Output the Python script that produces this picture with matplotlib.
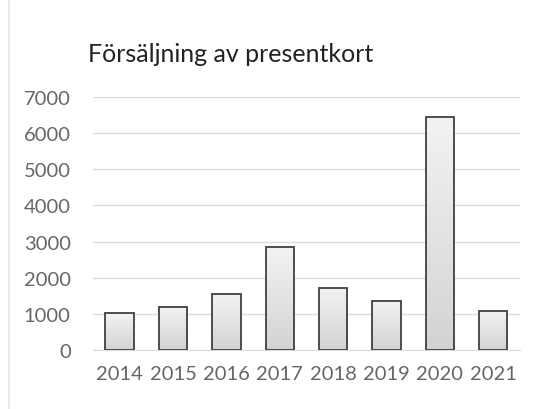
import numpy as np
import matplotlib.pyplot as plt
from matplotlib.patches import Rectangle
from matplotlib.colors import LinearSegmentedColormap

# Data
years = ['2014', '2015', '2016', '2017', '2018', '2019', '2020', '2021']
sales = [1020, 1200, 1540, 2840, 1720, 1360, 6450, 1090]
yticks = [0, 1000, 2000, 3000, 4000, 5000, 6000, 7000]

plt.rcParams['font.family'] = ['Lato', 'DejaVu Sans']

fig = plt.figure(figsize=(5.4, 4.1), dpi=100)
ax = fig.add_axes([0.172, 0.144, 0.791, 0.617])

x = np.arange(len(years))
bars = ax.bar(x, sales, width=0.53, color='none', edgecolor='#404040',
              linewidth=1.3, zorder=3)

# light grey gradient inside each bar (darker at the bottom)
cmap = LinearSegmentedColormap.from_list('barfill', ['#d3d3d3', '#f3f3f3'])
grad = np.linspace(0, 1, 256).reshape(-1, 1)
for b in bars:
    bx, by = b.get_x(), b.get_y()
    w, h = b.get_width(), b.get_height()
    im = ax.imshow(grad, extent=[bx, bx + w, by, by + h], aspect='auto',
                   cmap=cmap, origin='lower', zorder=2)
    im.set_clip_path(b)

ax.set_xlim(-0.5, len(years) - 0.5)
ax.set_ylim(0, 7000)
ax.set_yticks(yticks)
ax.set_xticks(x)
ax.set_xticklabels(years)
ax.grid(axis='y', color='#dcdcdc', linewidth=1, zorder=0)
for s in ['top', 'right', 'left']:
    ax.spines[s].set_visible(False)
ax.spines['bottom'].set_color('#dcdcdc')
ax.tick_params(length=0, labelsize=14.5, colors='#666666')
ax.tick_params(axis='y', pad=16)
ax.tick_params(axis='x', pad=11)

fig.text(0.163, 0.848, 'Försäljning av presentkort', fontsize=18, color='#222222')

# faint frame of the chart area
fig.patches.append(Rectangle((0.016, -0.02), 1.2, 1.2, transform=fig.transFigure,
                             fill=False, edgecolor='#e6e6e6', linewidth=1.2))

fig.savefig('out.png', dpi=100)
